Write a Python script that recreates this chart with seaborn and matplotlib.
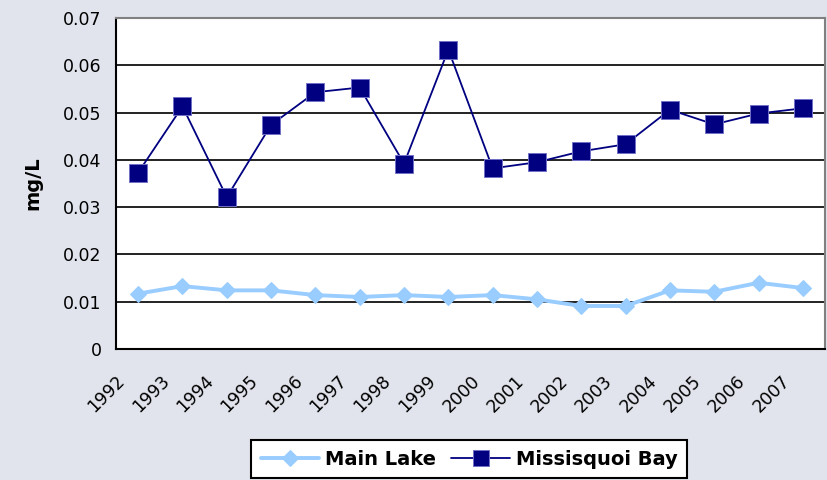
import numpy as np
import seaborn as sns
import matplotlib.pyplot as plt

years = ['1992', '1993', '1994', '1995', '1996', '1997', '1998', '1999',
         '2000', '2001', '2002', '2003', '2004', '2005', '2006', '2007']
main_lake = [0.0117, 0.0133, 0.0124, 0.0124, 0.0114, 0.0110, 0.0114, 0.0110,
             0.0114, 0.0105, 0.0091, 0.0091, 0.0124, 0.0121, 0.0140, 0.0129]
missisquoi_bay = [0.0373, 0.0513, 0.0321, 0.0474, 0.0543, 0.0553, 0.0392, 0.0633,
                  0.0382, 0.0395, 0.0418, 0.0433, 0.0506, 0.0475, 0.0498, 0.0509]
y_ticks = [0, 0.01, 0.02, 0.03, 0.04, 0.05, 0.06, 0.07]
y_labels = ['0', '0.01', '0.02', '0.03', '0.04', '0.05', '0.06', '0.07']

sns.set_style('white')
plt.rcParams['font.family'] = ['DejaVu Sans']
plt.rcParams['text.color'] = 'black'
plt.rcParams['xtick.color'] = 'black'
plt.rcParams['ytick.color'] = 'black'

bg = '#E1E4EC'
fig = plt.figure(figsize=(8.28, 4.8), dpi=100, facecolor=bg)
ax = fig.add_axes([116 / 828, 1 - 349 / 480, (825 - 116) / 828, (349 - 18) / 480])
ax.set_facecolor('white')

x = np.arange(len(years))
sns.lineplot(x=x, y=main_lake, ax=ax, color='#99CCFF', lw=2.8, marker='D',
             markersize=8.5, markeredgecolor='#99CCFF', label='Main Lake')
sns.lineplot(x=x, y=missisquoi_bay, ax=ax, color='#000080', lw=1.3, marker='s',
             markersize=12.5, markeredgecolor='#7070C8', markeredgewidth=0.7,
             label='Missisquoi Bay')

ax.set_xlim(-0.5, len(years) - 0.5)
ax.set_ylim(0, 0.07)
ax.set_yticks(y_ticks)
ax.set_yticklabels(y_labels)
ax.set_xticks(np.arange(-0.5, len(years)))
ax.set_xticklabels(years + [''], rotation=45, ha='right', rotation_mode='anchor')
ax.tick_params(axis='both', direction='out', length=4.5, width=1.3, color='black',
               labelsize=12.5, labelcolor='black')
ax.tick_params(axis='y', pad=6)
ax.tick_params(axis='x', pad=12)

ax.set_axisbelow(True)
ax.yaxis.grid(True, color='#111111', lw=1.3)
ax.xaxis.grid(False)
for side in ['left', 'bottom']:
    ax.spines[side].set_color('black')
    ax.spines[side].set_linewidth(1.5)
for side in ['top', 'right']:
    ax.spines[side].set_color('#808080')
    ax.spines[side].set_linewidth(1.5)

ax.set_xlabel('')
ax.set_ylabel('')
fig.text(33 / 828, 1 - 183.5 / 480, 'mg/L', rotation=90, ha='center', va='center',
         fontsize=14, fontweight='bold')

ax.get_legend().remove()
handles, labels = ax.get_legend_handles_labels()
leg = fig.legend(handles, labels, loc='upper center', bbox_to_anchor=(469 / 828, 1 - 440 / 480),
                 ncol=2, frameon=True, fancybox=False, framealpha=1, edgecolor='black',
                 prop={'weight': 'bold', 'size': 14}, handlelength=3.0, handletextpad=0.3,
                 columnspacing=0.8, markerscale=0.9, borderpad=0.5, borderaxespad=0)
leg.get_frame().set_linewidth(1.5)

fig.savefig('out.png', dpi=100, facecolor=bg)
